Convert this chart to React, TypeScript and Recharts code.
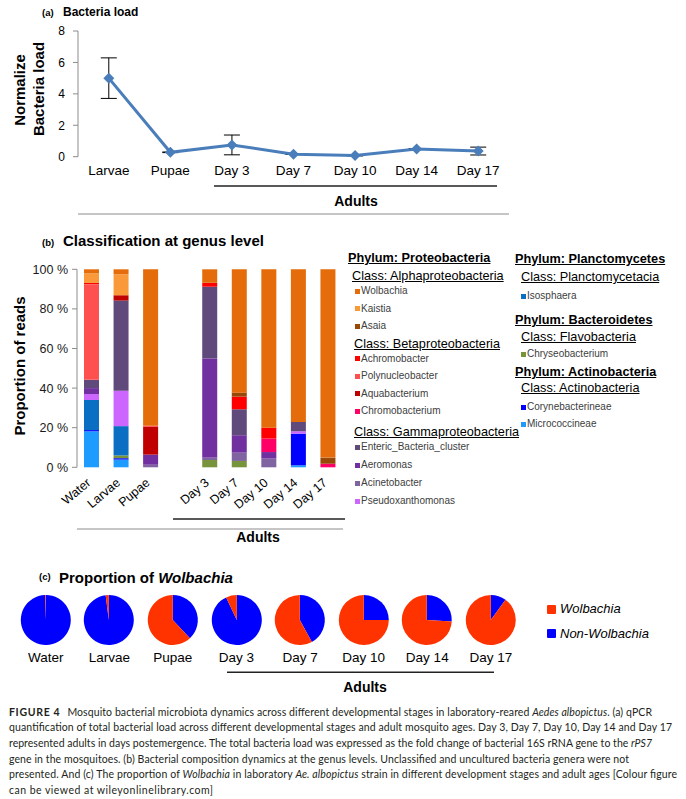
import React from 'react';
import { LineChart, Line, XAxis, YAxis, ErrorBar, BarChart, Bar, PieChart, Pie, Cell } from 'recharts';

const FONT = 'Arial, "Liberation Sans", Helvetica, sans-serif';
const AXIS = '#8c8c8c';

// ---------- (a) Bacteria load ----------
const loadStages = ['Larvae', 'Pupae', 'Day 3', 'Day 7', 'Day 10', 'Day 14', 'Day 17'];
const loadValues = [5.0, 0.28, 0.75, 0.16, 0.07, 0.49, 0.36];
const loadErrors = [1.29, 0.02, 0.63, 0.02, 0.02, 0.03, 0.25];
const loadTicks = [0, 2, 4, 6, 8];

// ---------- (b) Genus composition ----------
const genusCategories = ['Water', 'Larvae', 'Pupae', '', 'Day 3', 'Day 7', 'Day 10', 'Day 14', 'Day 17'];
const micrococcineae = [18.2, 3.9, 0, 0, 0, 0, 0, 1.0, 0];
const corynebacterineae = [0.6, 0.7, 0, 0, 0, 0, 0, 16.0, 0];
const chryseobacterium = [0, 1.4, 0, 0, 3.7, 3.2, 0, 0, 0];
const isosphaera = [15.2, 14.8, 0, 0, 0, 0, 0, 0, 0];
const pseudoxanthomonas = [3.0, 17.9, 0, 0, 0, 0, 0, 1.2, 0];
const acinetobacter = [0, 0, 1.3, 0, 1.3, 4.2, 4.4, 0, 0];
const aeromonas = [3.0, 0, 5.1, 0, 50.0, 8.8, 3.3, 0, 0];
const entericCluster = [4.2, 45.5, 0, 0, 36.2, 13.1, 0, 4.7, 0];
const chromobacterium = [0, 0, 0, 0, 0, 0, 6.8, 0, 1.8];
const aquabacterium = [0, 2.7, 14.0, 0, 0, 0, 0, 0, 0];
const polynucleobacter = [48.3, 0, 0.6, 0, 0, 0, 0, 0, 0];
const achromobacter = [0.6, 0, 0, 0, 2.0, 6.4, 5.5, 0, 0];
const asaia = [0, 0, 0, 0, 0, 2.0, 0, 0, 3.1];
const kaistia = [4.9, 10.6, 0, 0, 0, 0, 0, 0, 0];
const wolbachiaReads = [2.0, 2.5, 79.0, 0, 6.8, 62.3, 80.0, 77.1, 95.1];
const percentTicks = [0, 20, 40, 60, 80, 100];

// stacking order bottom -> top
const genusSeries = [
  { key: 'Micrococcineae', values: micrococcineae, color: '#1e9bff' },
  { key: 'Corynebacterineae', values: corynebacterineae, color: '#0000ff' },
  { key: 'Chryseobacterium', values: chryseobacterium, color: '#77933c' },
  { key: 'Isosphaera', values: isosphaera, color: '#0a6fc2' },
  { key: 'Pseudoxanthomonas', values: pseudoxanthomonas, color: '#cc66ff' },
  { key: 'Acinetobacter', values: acinetobacter, color: '#8064a2' },
  { key: 'Aeromonas', values: aeromonas, color: '#7030a0' },
  { key: 'Enteric_Bacteria_cluster', values: entericCluster, color: '#604a7b' },
  { key: 'Chromobacterium', values: chromobacterium, color: '#ff0066' },
  { key: 'Aquabacterium', values: aquabacterium, color: '#c00000' },
  { key: 'Polynucleobacter', values: polynucleobacter, color: '#ff5050' },
  { key: 'Achromobacter', values: achromobacter, color: '#ff0000' },
  { key: 'Asaia', values: asaia, color: '#984807' },
  { key: 'Kaistia', values: kaistia, color: '#f9993a' },
  { key: 'Wolbachia', values: wolbachiaReads, color: '#e46c0a' },
];
const genusColor: Record<string, string> = {};
genusSeries.forEach((s) => { genusColor[s.key] = s.color; });

// ---------- (c) Proportion of Wolbachia ----------
const pieStages = ['Water', 'Larvae', 'Pupae', 'Day 3', 'Day 7', 'Day 10', 'Day 14', 'Day 17'];
const wolbachiaShare = [0.5, 2, 62, 7, 58, 75, 74, 90];
const nonWolbachiaShare = [99.5, 98, 38, 93, 42, 25, 26, 10];
const WOLB = '#ff3300';
const NONW = '#0000ff';

// ---------- derived chart tables ----------
const loadData = loadStages.map((s, i) => ({ x: i + 0.5, name: s, value: loadValues[i], err: loadErrors[i] }));
const loadBoundaryTicks = [0, ...loadStages.map((_, i) => i + 1)];
const loadCenterTicks = loadStages.map((_, i) => i + 0.5);

const genusData = genusCategories.map((c, i) => {
  const row: any = { name: c, idx: i + 0.5 };
  genusSeries.forEach((s) => { row[s.key] = s.values[i]; });
  return row;
});
const genusBoundaryTicks = [0, ...genusCategories.map((_, i) => i + 1)];

// ---------- legend layout (b) ----------
const legendRows: any[] = [
  { kind: 'phylum', text: 'Phylum: Proteobacteria', x: 348, y: 263 },
  { kind: 'class', text: 'Class: Alphaproteobacteria', x: 352, y: 281 },
  { kind: 'item', genus: 'Wolbachia', x: 355, y: 291 },
  { kind: 'item', genus: 'Kaistia', x: 355, y: 308.5 },
  { kind: 'item', genus: 'Asaia', x: 355, y: 326 },
  { kind: 'class', text: 'Class: Betaproteobacteria', x: 354, y: 348.3 },
  { kind: 'item', genus: 'Achromobacter', x: 355, y: 358.5 },
  { kind: 'item', genus: 'Polynucleobacter', x: 355, y: 376 },
  { kind: 'item', genus: 'Aquabacterium', x: 355, y: 393.5 },
  { kind: 'item', genus: 'Chromobacterium', x: 355, y: 411 },
  { kind: 'class', text: 'Class: Gammaproteobacteria', x: 354, y: 436.5 },
  { kind: 'item', genus: 'Enteric_Bacteria_cluster', x: 355, y: 447 },
  { kind: 'item', genus: 'Aeromonas', x: 355, y: 465 },
  { kind: 'item', genus: 'Acinetobacter', x: 355, y: 483 },
  { kind: 'item', genus: 'Pseudoxanthomonas', x: 355, y: 501 },
  { kind: 'phylum', text: 'Phylum: Planctomycetes', x: 515, y: 263.3 },
  { kind: 'class', text: 'Class: Planctomycetacia', x: 521, y: 282 },
  { kind: 'item', genus: 'Isosphaera', x: 521, y: 296 },
  { kind: 'phylum', text: 'Phylum: Bacteroidetes', x: 515, y: 325 },
  { kind: 'class', text: 'Class: Flavobacteria', x: 521, y: 341.7 },
  { kind: 'item', genus: 'Chryseobacterium', x: 521, y: 354 },
  { kind: 'phylum', text: 'Phylum: Actinobacteria', x: 515, y: 376.7 },
  { kind: 'class', text: 'Class: Actinobacteria', x: 521, y: 392.3 },
  { kind: 'item', genus: 'Corynebacterineae', x: 521, y: 407.3 },
  { kind: 'item', genus: 'Micrococcineae', x: 521, y: 424 },
];

const captionLines = [
  { y: 715.5, w: 643 },
  { y: 731.2, w: 663 },
  { y: 746.9, w: 643 },
  { y: 762.6, w: 620 },
  { y: 778.3, w: 668 },
  { y: 794, w: 204 },
];

// ---------- helpers ----------
const Txt = ({ x, y, fs, children, bold, italic, underline, anchor = 'start', color = '#000', family = FONT }: any) => {
  const top = y - 0.8465 * fs;
  const transform = anchor === 'middle' ? 'translateX(-50%)' : anchor === 'end' ? 'translateX(-100%)' : undefined;
  return (
    <div
      style={{
        position: 'absolute', left: x, top, fontSize: fs, lineHeight: `${fs}px`,
        fontWeight: bold ? 700 : 400, fontStyle: italic ? 'italic' : 'normal',
        textDecoration: underline ? 'underline' : 'none', color, whiteSpace: 'nowrap',
        fontFamily: family, transform,
      }}
    >
      {children}
    </div>
  );
};

const renderDiamond = (props: any) => {
  const { cx, cy, index } = props;
  if (cx == null || cy == null) return <g key={`d${index}`} />;
  const r = 5.5;
  return <path key={`d${index}`} d={`M${cx},${cy - r}L${cx + r},${cy}L${cx},${cy + r}L${cx - r},${cy}Z`} fill="#4a7ebb" />;
};

const GenusTick = (props: any) => {
  const { x, y, payload } = props;
  const px = x - 6;
  const py = y + 10;
  return (
    <text x={px} y={py} dy="0.71em" textAnchor="end" transform={`rotate(-40 ${px} ${py})`} fontSize={12.5} fill="#000" fontFamily={FONT}>
      {payload.value}
    </text>
  );
};

export default function App() {
  return (
    <div style={{ position: 'absolute', left: 0, top: 0, width: 686, height: 799, background: '#fff', fontFamily: FONT, overflow: 'hidden' }}>
      {/* (a) line chart */}
      <div style={{ position: 'absolute', left: 0, top: 0 }}>
        <LineChart width={520} height={215} data={loadData} margin={{ top: 31, right: 11, bottom: 0, left: 0 }}>
          <XAxis xAxisId="main" type="number" dataKey="x" domain={[0, 7]} ticks={loadBoundaryTicks} allowDataOverflow interval={0}
            tick={false} tickSize={5} height={1} axisLine={{ stroke: AXIS }} tickLine={{ stroke: AXIS }} />
          <XAxis xAxisId="lab" type="number" dataKey="x" domain={[0, 7]} ticks={loadCenterTicks} allowDataOverflow interval={0}
            tickFormatter={(v: number) => loadStages[Math.floor(v)]} axisLine={false} tickLine={false} tickSize={0} tickMargin={9}
            height={57.3} tick={{ fontSize: 13.5, fill: '#000', fontFamily: FONT }} />
          <YAxis type="number" domain={[0, 8]} ticks={loadTicks} interval={0} width={78} tickSize={5} tickMargin={8}
            axisLine={{ stroke: AXIS }} tickLine={{ stroke: AXIS }} tick={{ fontSize: 12, fill: '#000', fontFamily: FONT }} />
          <Line xAxisId="main" type="linear" dataKey="value" stroke="#4a7ebb" strokeWidth={3} dot={renderDiamond} activeDot={false} isAnimationActive={false}>
            <ErrorBar dataKey="err" width={8} stroke="#000" strokeWidth={1} direction="y" />
          </Line>
        </LineChart>
      </div>

      {/* (b) stacked bars */}
      <div style={{ position: 'absolute', left: 0, top: 230 }}>
        <BarChart width={350} height={300} data={genusData} margin={{ top: 39.3, right: 7, bottom: 0, left: 0 }}>
          <XAxis xAxisId="tk" type="number" dataKey="idx" domain={[0, 9]} ticks={genusBoundaryTicks} allowDataOverflow interval={0}
            tick={false} tickSize={5} height={1} axisLine={{ stroke: AXIS }} tickLine={{ stroke: AXIS }} />
          <XAxis xAxisId="cat" dataKey="name" type="category" interval={0} axisLine={false} tickLine={false} tickSize={0} tickMargin={0}
            height={61.7} tick={<GenusTick />} />
          <YAxis type="number" domain={[0, 100]} ticks={percentTicks} interval={0} width={77} tickSize={5} tickMargin={4}
            tickFormatter={(v: number) => `${v} %`} axisLine={{ stroke: AXIS }} tickLine={{ stroke: AXIS }}
            tick={{ fontSize: 12.5, fill: '#1a1a1a', fontFamily: FONT }} />
          {genusSeries.map((s) => (
            <Bar key={s.key} xAxisId="cat" dataKey={s.key} stackId="g" fill={s.color} barSize={15} isAnimationActive={false} />
          ))}
        </BarChart>
      </div>

      {/* (c) pies */}
      <div style={{ position: 'absolute', left: 13.9, top: 594, display: 'flex' }}>
        {pieStages.map((s, i) => (
          <div key={s} style={{ width: 63.6 }}>
            <PieChart width={63.6} height={52} margin={{ top: 0, right: 0, bottom: 0, left: 0 }}>
              <Pie
                data={[{ name: 'Non-Wolbachia', value: nonWolbachiaShare[i] }, { name: 'Wolbachia', value: wolbachiaShare[i] }]}
                dataKey="value" startAngle={90} endAngle={-270} outerRadius={25} innerRadius={0} stroke="none" isAnimationActive={false}
              >
                <Cell fill={NONW} />
                <Cell fill={WOLB} />
              </Pie>
            </PieChart>
            <div style={{ marginTop: 4, textAlign: 'center', fontSize: 13.5, lineHeight: '16px', color: '#000', whiteSpace: 'nowrap' }}>{s}</div>
          </div>
        ))}
      </div>

      {/* titles and labels */}
      <Txt x={42} y={16} fs={9.5} bold>(a)</Txt>
      <Txt x={63} y={16} fs={12} bold>Bacteria load</Txt>
      <Txt x={356} y={206} fs={14} bold anchor="middle">Adults</Txt>

      <Txt x={42} y={246} fs={9.5} bold>(b)</Txt>
      <Txt x={63} y={246} fs={15} bold>Classification at genus level</Txt>
      <Txt x={258} y={542} fs={14} bold anchor="middle">Adults</Txt>

      <Txt x={39} y={580} fs={9.5} bold>(c)</Txt>
      <Txt x={59} y={583} fs={15} bold>Proportion of <i>Wolbachia</i></Txt>
      <Txt x={365} y={692} fs={14} bold anchor="middle">Adults</Txt>

      {/* legend (b) */}
      {legendRows.map((r, i) => {
        if (r.kind === 'phylum') return <Txt key={i} x={r.x} y={r.y} fs={12.7} bold underline>{r.text}</Txt>;
        if (r.kind === 'class') return <Txt key={i} x={r.x} y={r.y} fs={12.7} underline>{r.text}</Txt>;
        return (
          <React.Fragment key={i}>
            <div style={{ position: 'absolute', left: r.x, top: r.y - 2.5, width: 5, height: 5, background: genusColor[r.genus] }} />
            <Txt x={r.x + 6} y={r.y + 3.6} fs={10} color="#404040">{r.genus}</Txt>
          </React.Fragment>
        );
      })}

      {/* legend (c) */}
      <div style={{ position: 'absolute', left: 547, top: 605, width: 9, height: 9, background: WOLB, borderRadius: 1 }} />
      <Txt x={560} y={613.5} fs={13} italic>Wolbachia</Txt>
      <div style={{ position: 'absolute', left: 547, top: 629, width: 9, height: 9, background: NONW, borderRadius: 1 }} />
      <Txt x={560} y={638} fs={13} italic>Non-Wolbachia</Txt>

      <svg width={686} height={799} style={{ position: 'absolute', left: 0, top: 0, pointerEvents: 'none' }}>
        <text transform="translate(25,90) rotate(-90)" textAnchor="middle" fontSize={15} fontWeight={700} fontFamily={FONT} fill="#000">Normalize</text>
        <text transform="translate(44,89) rotate(-90)" textAnchor="middle" fontSize={15} fontWeight={700} fontFamily={FONT} fill="#000">Bacteria load</text>
        <text transform="translate(25,366) rotate(-90)" textAnchor="middle" fontSize={15} fontWeight={700} fontFamily={FONT} fill="#000">Proportion of reads</text>

        <line x1={214} y1={186} x2={497} y2={186} stroke="#222" strokeWidth={1.4} />
        <line x1={173} y1={519} x2={345} y2={519} stroke="#222" strokeWidth={1.4} />
        <line x1={227} y1={672.3} x2={494} y2={672.3} stroke="#222" strokeWidth={1.4} />

        <g fontFamily='Lato, "Open Sans", sans-serif' fontSize={10.5} fill="#231f20">
          <text x={9} y={captionLines[0].y} textLength={captionLines[0].w} lengthAdjust="spacing">
            <tspan fontWeight={700} letterSpacing={0.6}>FIGURE 4</tspan>
            <tspan dx={7}>Mosquito bacterial microbiota dynamics across different developmental stages in laboratory-reared </tspan>
            <tspan fontStyle="italic">Aedes albopictus</tspan>
            <tspan>. (a) qPCR</tspan>
          </text>
          <text x={9} y={captionLines[1].y} textLength={captionLines[1].w} lengthAdjust="spacing">
            quantification of total bacterial load across different developmental stages and adult mosquito ages. Day 3, Day 7, Day 10, Day 14 and Day 17
          </text>
          <text x={9} y={captionLines[2].y} textLength={captionLines[2].w} lengthAdjust="spacing">
            <tspan>represented adults in days postemergence. The total bacteria load was expressed as the fold change of bacterial 16S rRNA gene to the </tspan>
            <tspan fontStyle="italic">rPS7</tspan>
          </text>
          <text x={9} y={captionLines[3].y} textLength={captionLines[3].w} lengthAdjust="spacing">
            gene in the mosquitoes. (b) Bacterial composition dynamics at the genus levels. Unclassified and uncultured bacteria genera were not
          </text>
          <text x={9} y={captionLines[4].y} textLength={captionLines[4].w} lengthAdjust="spacing">
            <tspan>presented. And (c) The proportion of </tspan>
            <tspan fontStyle="italic">Wolbachia</tspan>
            <tspan> in laboratory </tspan>
            <tspan fontStyle="italic">Ae. albopictus</tspan>
            <tspan> strain in different development stages and adult ages [Colour figure</tspan>
          </text>
          <text x={9} y={captionLines[5].y} textLength={captionLines[5].w} lengthAdjust="spacing">
            can be viewed at wileyonlinelibrary.com]
          </text>
        </g>
      </svg>
    </div>
  );
}
